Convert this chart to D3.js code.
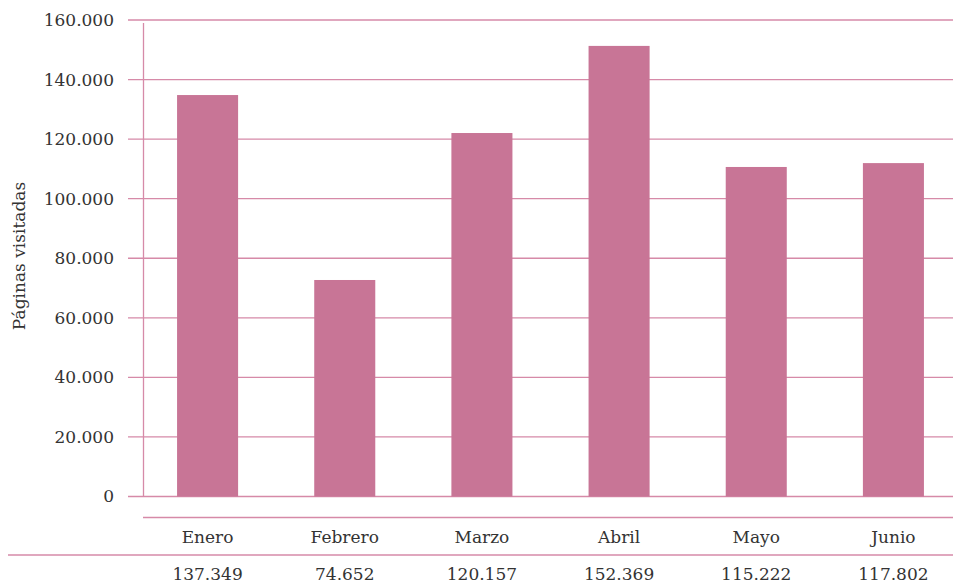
<!DOCTYPE html>
<html>
<head>
<meta charset="utf-8">
<script src="https://cdn.jsdelivr.net/npm/d3@7"></script>
<style>
  html, body { margin: 0; padding: 0; background: #fff; }
  svg { display: block; }
  text { font-family: "DejaVu Serif", serif; fill: #333; }
</style>
</head>
<body>
<svg id="chart"></svg>
<script>
'use strict'

// datos
var meses = ["Enero", "Febrero", "Marzo", "Abril", "Mayo", "Junio"];
var visitas = [134800, 72700, 122050, 151300, 110650, 111950];   // alto de las barras
var tablaValores = ["137.349", "74.652", "120.157", "152.369", "115.222", "117.802"];
var yTicks = [0, 20000, 40000, 60000, 80000, 100000, 120000, 140000, 160000];

var width = 953, height = 585;
var rosa = "#c87596", linea = "#d68aa8";

var es = d3.formatLocale({ decimal: ",", thousands: ".", grouping: [3], currency: ["", " €"] });
var fmt = es.format(",d");

var svg = d3.select("#chart")
    .attr("width", width)
    .attr("height", height);

var y = d3.scaleLinear().domain([0, 160000]).range([496.5, 20]);
var x = d3.scaleBand().domain(meses).range([139, 962])
    .paddingInner(0.555).paddingOuter(0.2775);

// lineas de cuadricula
svg.append("g")
    .selectAll("line")
    .data(yTicks)
    .enter().append("line")
    .attr("x1", 128).attr("x2", width)
    .attr("y1", d => y(d)).attr("y2", d => y(d))
    .attr("stroke", linea)
    .attr("stroke-width", 1.3);

// eje vertical
svg.append("line")
    .attr("x1", 143.5).attr("x2", 143.5)
    .attr("y1", 23).attr("y2", y(0))
    .attr("stroke", linea)
    .attr("stroke-width", 1.3);

// etiquetas eje y
svg.append("g")
    .selectAll("text")
    .data(yTicks)
    .enter().append("text")
    .attr("x", 114)
    .attr("y", d => y(d))
    .attr("dy", "0.35em")
    .attr("text-anchor", "end")
    .style("font-size", "17px")
    .text(d => fmt(d));

svg.append("text")
    .attr("transform", "translate(25,256) rotate(-90)")
    .attr("text-anchor", "middle")
    .style("font-size", "17px")
    .text("Páginas visitadas");

// barras
svg.append("g")
    .selectAll("rect")
    .data(visitas)
    .enter().append("rect")
    .attr("x", (d, i) => x(meses[i]))
    .attr("width", x.bandwidth())
    .attr("y", d => y(d))
    .attr("height", d => y(0) - y(d))
    .attr("fill", rosa);

// tabla inferior
svg.append("line")
    .attr("x1", 143).attr("x2", width)
    .attr("y1", 517.5).attr("y2", 517.5)
    .attr("stroke", linea).attr("stroke-width", 1.3);

svg.append("line")
    .attr("x1", 8).attr("x2", width)
    .attr("y1", 555).attr("y2", 555)
    .attr("stroke", linea).attr("stroke-width", 1.3);

svg.append("g")
    .selectAll("text")
    .data(meses)
    .enter().append("text")
    .attr("x", d => x(d) + x.bandwidth() / 2)
    .attr("y", 537)
    .attr("dy", "0.35em")
    .attr("text-anchor", "middle")
    .style("font-size", "17px")
    .text(d => d);

svg.append("g")
    .selectAll("text")
    .data(tablaValores)
    .enter().append("text")
    .attr("x", (d, i) => x(meses[i]) + x.bandwidth() / 2)
    .attr("y", 574)
    .attr("dy", "0.35em")
    .attr("text-anchor", "middle")
    .style("font-size", "17px")
    .text(d => d);
</script>
</body>
</html>
